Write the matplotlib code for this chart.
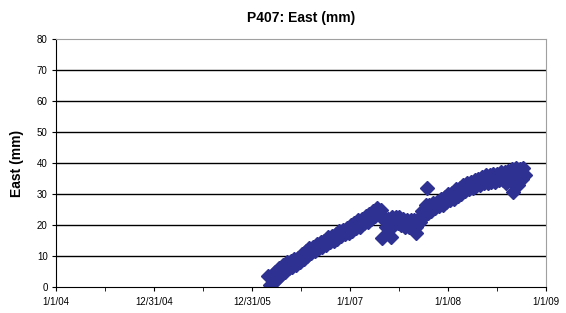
import numpy as np
import pandas as pd
import matplotlib
matplotlib.use("Agg")
import matplotlib.pyplot as plt
import matplotlib.dates as mdates

plt.rcParams['font.family'] = ['Liberation Sans', 'DejaVu Sans']

# weekly east position (mm), starting early March 2006
start_date = "2006-03-01"
east_mm = [
    3.5, 0.5, 4.0, 1.5, 5.0, 2.5, 6.0, 4.0, 7.0, 5.0,
    8.0, 6.0, 8.5, 6.5, 9.0, 7.0, 9.5, 8.0, 10.5, 9.0,
    11.5, 10.0, 12.5, 11.0, 13.0, 11.5, 14.0, 12.5, 14.5, 13.0,
    15.0, 13.5, 16.0, 14.5, 16.5, 15.0, 17.0, 15.5, 18.0, 16.5,
    18.5, 17.0, 19.0, 17.5, 20.0, 18.0, 20.5, 19.0, 21.5, 19.5,
    22.0, 20.5, 23.0, 21.0, 23.5, 22.0, 24.5, 23.0, 25.5, 24.0,
    25.0, 22.5, 21.5, 19.5, 22.0, 20.0, 22.5, 20.0, 22.5, 20.5,
    22.5, 20.0, 22.0, 19.5, 21.5, 19.5, 21.5, 19.0, 21.5, 19.5,
    22.0, 21.0, 24.5, 23.0, 26.5, 24.0, 26.5, 24.5, 27.0, 25.5,
    27.5, 26.0, 28.5, 26.5, 29.0, 27.5, 30.0, 28.0, 30.5, 28.5,
    31.5, 29.5, 32.0, 30.0, 33.0, 31.0, 33.5, 31.5, 34.0, 32.0,
    34.5, 32.5, 35.0, 33.0, 35.5, 33.5, 36.0, 33.5, 36.0, 34.0,
    36.5, 34.0, 36.5, 34.5, 37.0, 34.5, 37.0, 33.5, 37.5, 34.5,
    38.0, 35.0, 38.5, 33.0, 38.0, 35.0, 38.5, 36.0,
]
dates = pd.date_range(start_date, periods=len(east_mm), freq="7D")

# scattered outliers
outlier_dates = pd.to_datetime(["2007-05-01", "2007-06-01", "2007-09-05",
                                "2007-10-15", "2008-09-01"])
outlier_mm = [15.8, 16.0, 17.4, 32.0, 30.6]

tick_dates = pd.to_datetime(["2004-01-01", "2004-12-31", "2005-12-31",
                             "2007-01-01", "2008-01-01", "2009-01-01"])
tick_labels = ["1/1/04", "12/31/04", "12/31/05", "1/1/07", "1/1/08", "1/1/09"]

color = "#2e3192"

fig = plt.figure(figsize=(5.66, 3.13), dpi=100)
ax = fig.add_axes([0.099, 0.083, 0.866, 0.792])

ax.plot(dates, east_mm, 'D', color=color, ms=7, mec=color, ls='none')
ax.plot(outlier_dates, outlier_mm, 'D', color=color, ms=7, mec=color, ls='none')

ax.set_xlim(tick_dates[0], tick_dates[-1])
ax.set_ylim(0, 80)
ax.set_yticks(range(0, 81, 10))
ax.set_xticks(tick_dates)
ax.set_xticklabels(tick_labels)
mids = tick_dates[:-1] + (tick_dates[1:] - tick_dates[:-1]) / 2
ax.set_xticks(mids, minor=True)

for y in range(10, 80, 10):
    ax.axhline(y, color="black", lw=1.0, zorder=0)

ax.spines['left'].set_color("black")
ax.spines['bottom'].set_color("black")
ax.spines['top'].set_color("#a0a0a0")
ax.spines['right'].set_color("#a0a0a0")
ax.tick_params(axis='both', which='both', direction='out', length=3,
               labelsize=7, colors="black", pad=3)
ax.tick_params(axis='x', which='major', pad=4)

ax.set_title("P407: East (mm)", fontsize=10, fontweight='bold', pad=12)
ax.set_ylabel("East (mm)", fontsize=10, fontweight='bold', labelpad=9)

fig.savefig("out.png", dpi=100)
